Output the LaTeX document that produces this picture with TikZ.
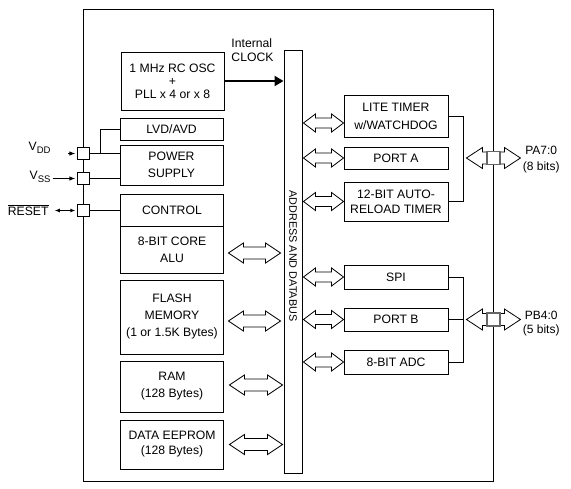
\documentclass[tikz,border=0pt]{standalone}
\usepackage{fontspec}
\setmainfont{Liberation Sans}
\usetikzlibrary{arrows.meta, calc}

% hollow double arrow: row point, left tip x, right tip x, half head, half shaft, head length
\newcommand{\hollowarrow}[6]{%
	\coordinate (hr) at (#1);
	\coordinate (hl) at (#2);
	\coordinate (hx) at (#3);
	\coordinate (ha) at (hl |- hr);
	\coordinate (hb) at (hx |- hr);
	\draw[hollow] (ha) -- ($(ha)+(#6,#4)$) -- ($(ha)+(#6,#5)$) -- ($(hb)+(-#6,#5)$) -- ($(hb)+(-#6,#4)$) -- (hb)
		-- ($(hb)+(-#6,-#4)$) -- ($(hb)+(-#6,-#5)$) -- ($(ha)+(#6,-#5)$) -- ($(ha)+(#6,-#4)$) -- cycle;}
\newcommand{\sub}[1]{\raisebox{-2.5pt}{\fontsize{9.5}{10}\selectfont #1}}

\tikzset{
	blk/.style={draw, fill=white, minimum width=103pt, inner sep=0pt, align=center, font=\fontsize{12.2}{17}\selectfont},
	rblk/.style={blk, minimum width=104pt},
	pin/.style={draw, fill=white, minimum size=12.5pt, inner sep=0pt},
	portsq/.style={draw=black!60, line width=1.3pt, fill=white, minimum size=13pt, inner sep=0pt},
	hollow/.style={draw, fill=white, line width=0.8pt, line join=miter},
	lbl/.style={font=\fontsize{12.2}{15}\selectfont, inner sep=0pt, align=center},
	tip/.style={-{Latex[length=6pt,width=4.5pt]}},
}

\begin{document}
\begin{tikzpicture}[x=1pt, y=-1pt, line width=0.9pt]
	\useasboundingbox (0,0) rectangle (571,488);
	% chip outline
	\draw (83,9) rectangle (493,481);

	% address and data bus
	\node[draw, fill=white, minimum width=18pt, minimum height=423pt, inner sep=0pt] (bus) at (293,261.5) {};
	\node[rotate=-90, font=\fontsize{10.8}{12}\selectfont] (buslbl) at ([yshift=5.5pt]bus.center) {ADDRESS AND DATABUS};

	% left blocks
	\node[blk, minimum height=58pt, font=\fontsize{12.2}{12.8}\selectfont] (osc) at (172.5,81) {1 MHz RC OSC\\+\\PLL x 4 or x 8};
	\node[blk, minimum height=22pt] (lvd) at (171.5,129) {LVD/AVD};
	\node[blk, minimum height=40pt] (pwr) at (171.5,165) {POWER\\SUPPLY};
	\node[blk, minimum height=32pt] (ctrl) at (172,210) {CONTROL};
	\node[blk, minimum height=47pt] (core) at (172,249.5) {8-BIT CORE\\ALU};
	\node[blk, minimum height=74pt] (flash) at (172,317) {FLASH\\MEMORY\\(1 or 1.5K Bytes)};
	\node[blk, minimum height=51pt] (ram) at (172,386.5) {RAM\\(128 Bytes)};
	\node[blk, minimum height=49pt, font=\fontsize{12.2}{15}\selectfont] (eeprom) at (172,444.5) {DATA EEPROM\\(128 Bytes)};

	% right blocks
	\node[rblk, minimum height=42pt, font=\fontsize{12.2}{18}\selectfont] (lite) at (396,116) {LITE TIMER\\w/WATCHDOG};
	\node[rblk, minimum height=22pt] (porta) at (396,158) {PORT A};
	\node[rblk, minimum height=39pt, font=\fontsize{12.2}{15}\selectfont] (auto) at (396,201.5) {12-BIT AUTO-\\RELOAD TIMER};
	\node[rblk, minimum height=24pt] (spi) at (396,277) {SPI};
	\node[rblk, minimum height=23pt] (portb) at (396,319.5) {PORT B};
	\node[rblk, minimum height=24pt] (adc) at (396,362) {8-BIT ADC};

	% pins
	\node[pin] (vdd) at (83.5,153.5) {};
	\node[pin] (vss) at (83.5,178.5) {};
	\node[pin] (rst) at (83.5,210.5) {};
	\node[lbl, anchor=east] (vddlbl) at (51,148) {V\sub{DD}};
	\node[lbl, anchor=east] (vsslbl) at (51,177) {V\sub{SS}};
	\node[lbl, anchor=east] (rstlbl) at (49,210) {$\overline{\mbox{RESET}}$};
	\draw[tip] ([xshift=-9pt]vdd.west) -- ([xshift=-1.5pt]vdd.west);
	\draw[tip] ([xshift=-24pt]vss.west) -- ([xshift=-1.5pt]vss.west);
	\draw[{Latex[length=5pt,width=4pt]}-{Latex[length=5pt,width=4pt]}] ([xshift=-22pt]rst.west) -- ([xshift=-1.5pt]rst.west);

	% supply and control lines
	\draw (vdd.east) -- (vdd.east -| pwr.west);
	\draw ([xshift=10pt]vdd.east) |- (lvd.west);
	\draw (vss.east) -- (vss.east -| pwr.west);
	\draw (rst.east) -- (rst.east -| ctrl.west);

	% clock
	\draw[line width=1.8pt, -{Triangle[length=9pt,width=10pt]}] (osc.east) -- (osc.east -| bus.west);
	\node[lbl, anchor=west, align=left, font=\fontsize{12.2}{14}\selectfont] (clk) at (231,50) {Internal\\CLOCK};

	% bus arrows
	\hollowarrow{[yshift=-3.5pt]core.east}{[xshift=4.5pt]core.east}{[xshift=-3pt]bus.west}{10}{6}{15}
	\hollowarrow{[yshift=-4pt]flash.east}{[xshift=4.5pt]flash.east}{[xshift=-3pt]bus.west}{10}{6}{15}
	\hollowarrow{[yshift=1.5pt]ram.east}{[xshift=5.5pt]ram.east}{[xshift=-1pt]bus.west}{10}{6}{15}
	\hollowarrow{eeprom.east}{[xshift=5.5pt]eeprom.east}{[xshift=-1pt]bus.west}{10}{6}{15}
	\hollowarrow{[yshift=-7pt]lite.west}{[xshift=1pt]bus.east}{lite.west}{9}{5}{12}
	\hollowarrow{porta.west}{[xshift=1pt]bus.east}{porta.west}{9}{5}{12}
	\hollowarrow{auto.west}{[xshift=1pt]bus.east}{auto.west}{9}{5}{12}
	\hollowarrow{spi.west}{[xshift=1pt]bus.east}{spi.west}{9}{5}{12}
	\hollowarrow{portb.west}{[xshift=1pt]bus.east}{portb.west}{9}{5}{12}
	\hollowarrow{adc.west}{[xshift=1pt]bus.east}{adc.west}{9}{5}{12}

	% port A pins
	\coordinate (jA) at ([xshift=15pt]porta.east);
	\draw (lite.east) -| (jA) |- (auto.east);
	\hollowarrow{jA}{[xshift=3pt]jA}{[xshift=57pt]jA}{10.5}{6}{16}
	\node[portsq] (pa) at ([xshift=30pt]jA) {};
	\node[lbl, anchor=west, font=\fontsize{12}{16}\selectfont] (palbl) at ([xshift=59pt,yshift=-2pt]jA) {PA7:0\\(8 bits)};

	% port B pins
	\coordinate (jB) at ([xshift=15pt]portb.east);
	\draw (spi.east) -| (jB) |- (adc.east);
	\draw (portb.east) -- (jB);
	\hollowarrow{jB}{[xshift=3pt]jB}{[xshift=57pt]jB}{10.5}{6}{16}
	\node[portsq] (pb) at ([xshift=30pt]jB) {};
	\node[lbl, anchor=west, font=\fontsize{12}{14}\selectfont] (pblbl) at ([xshift=59pt,yshift=-4pt]jB) {PB4:0\\(5 bits)};
\end{tikzpicture}
\end{document}
